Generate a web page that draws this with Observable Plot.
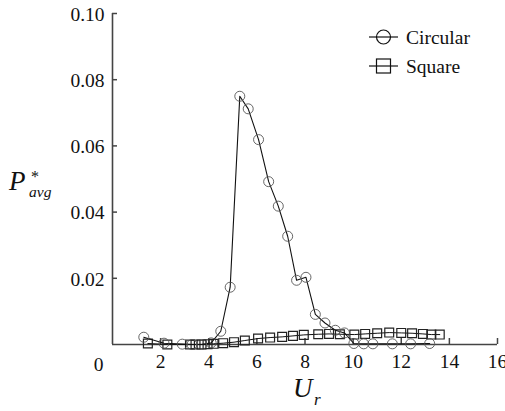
<!DOCTYPE html>
<html>
<head>
<meta charset="utf-8">
<script src="https://cdn.jsdelivr.net/npm/d3@7"></script>
<script src="https://cdn.jsdelivr.net/npm/@observablehq/plot@0.6"></script>
<style>
  html, body { margin: 0; padding: 0; background: #fff; font-family: "Liberation Serif", serif; }
  #chart { width: 505px; height: 411px; }
</style>
</head>
<body>
<div id="chart"></div>
<script>
// ---- data ----
const circularU = [1.30, 2.14, 2.90, 3.30, 3.70, 4.10, 4.50, 4.89, 5.29, 5.64, 6.07, 6.49, 6.89, 7.28, 7.65, 8.04, 8.43, 8.83, 9.26, 9.64, 10.03, 10.44, 10.82, 11.63, 12.39, 13.18];
const circularP = [0.0022, 0.0004, 0.0001, 0.0000, 0.0000, 0.0005, 0.0040, 0.0173, 0.0750, 0.0712, 0.0619, 0.0492, 0.0418, 0.0327, 0.0194, 0.0203, 0.0091, 0.0065, 0.0043, 0.0035, 0.0003, 0.0002, 0.0002, 0.0002, 0.0002, 0.0003];

const squareU = [1.47, 2.28, 3.22, 3.45, 3.70, 3.95, 4.20, 4.60, 5.05, 5.50, 6.05, 6.55, 7.05, 7.50, 7.95, 8.55, 9.00, 9.45, 10.05, 10.50, 11.00, 11.50, 12.00, 12.45, 12.90, 13.25, 13.60];
const squareP = [0.0003, 0.0000, 0.0000, 0.0000, 0.0000, 0.0001, 0.0002, 0.0004, 0.0007, 0.0012, 0.0018, 0.0021, 0.0023, 0.0026, 0.0029, 0.0031, 0.0032, 0.0031, 0.0030, 0.0032, 0.0034, 0.0036, 0.0035, 0.0034, 0.0032, 0.0030, 0.0030];

const xTicks = [2, 4, 6, 8, 10, 12, 14, 16];
const yTicks = [0.02, 0.04, 0.06, 0.08, 0.10];
const originLabel = ["0"];
const seriesNames = ["Circular", "Square"];

const circular = circularU.map((u, i) => ({u, p: circularP[i]}));
const square = squareU.map((u, i) => ({u, p: squareP[i]}));

const FONT = "Liberation Serif, DejaVu Serif, serif";
const AXIS = "#444";
const FS = 19.5;

const plot = Plot.plot({
  width: 505,
  height: 411,
  marginLeft: 112,
  marginRight: 8,
  marginTop: 13,
  marginBottom: 67,
  x: {domain: [0, 16]},
  y: {domain: [0, 0.1]},
  style: {fontFamily: FONT, fontSize: FS + "px", color: "#111", background: "#fff", overflow: "visible"},
  marks: [
    // axis lines
    Plot.ruleY([0], {stroke: AXIS, strokeWidth: 1.6}),
    Plot.ruleX([0], {stroke: AXIS, strokeWidth: 1.6}),
    // inward ticks
    Plot.axisX({ticks: xTicks, tickSize: 6, dy: -6, tickFormat: () => "", stroke: AXIS, strokeWidth: 1.5, label: null}),
    Plot.axisY({ticks: yTicks, tickSize: 5, dx: 5, tickFormat: () => "", stroke: AXIS, strokeWidth: 1.5, label: null}),
    // tick labels
    Plot.axisX({ticks: xTicks, tickSize: 0, tickPadding: 10, label: null, fontSize: FS}),
    Plot.axisY({ticks: yTicks, tickSize: 0, tickPadding: 8, tickFormat: d3.format(".2f"), label: null, fontSize: FS, dy: 1}),
    Plot.text(originLabel, {x: 0, y: 0, text: d => d, dx: -9, dy: 20, textAnchor: "end", fontSize: FS}),
    // series
    Plot.line(square, {x: "u", y: "p", stroke: "#111", strokeWidth: 1}),
    Plot.dot(square, {x: "u", y: "p", symbol: "square", r: 5, stroke: "#222", strokeWidth: 1.2, fill: "none"}),
    Plot.line(circular, {x: "u", y: "p", stroke: "#111", strokeWidth: 1.1}),
    Plot.dot(circular, {x: "u", y: "p", r: 5, stroke: "#555", strokeWidth: 0.9, fill: "none"})
  ]
});

document.getElementById("chart").appendChild(plot);

const svg = d3.select(plot);

// y-axis title  P*_avg
const yt = svg.append("g").attr("font-style", "italic").attr("fill", "#111").attr("text-anchor", "start");
yt.append("text").attr("x", 9).attr("y", 190).attr("font-size", 27).text("P");
yt.append("text").attr("x", 31).attr("y", 182).attr("font-size", 16).attr("font-style", "normal").text("*");
yt.append("text").attr("x", 29).attr("y", 197).attr("font-size", 15.5).text("avg");

// x-axis title  U_r
const xt = svg.append("g").attr("font-style", "italic").attr("fill", "#111").attr("text-anchor", "start");
xt.append("text").attr("x", 293).attr("y", 397).attr("font-size", 27).text("U");
xt.append("text").attr("x", 314).attr("y", 405).attr("font-size", 17).text("r");

// legend
const lg = svg.append("g").attr("font-size", FS).attr("fill", "#111").attr("text-anchor", "start");
const rows = [{name: seriesNames[0], y: 37, sym: "circle"}, {name: seriesNames[1], y: 66, sym: "square"}];
rows.forEach(r => {
  lg.append("line").attr("x1", 369).attr("x2", 398).attr("y1", r.y).attr("y2", r.y).attr("stroke", "#111").attr("stroke-width", 1.2);
  if (r.sym === "circle") {
    lg.append("circle").attr("cx", 383.5).attr("cy", r.y).attr("r", 7).attr("fill", "none").attr("stroke", "#111").attr("stroke-width", 1.2);
  } else {
    lg.append("rect").attr("x", 376.5).attr("y", r.y - 7).attr("width", 14).attr("height", 14).attr("fill", "none").attr("stroke", "#111").attr("stroke-width", 1.2);
  }
  lg.append("text").attr("x", 406).attr("y", r.y + 7).text(r.name);
});

// use the serif face wherever the renderer provides it
svg.selectAll("text").style("font-family", FONT);
</script>
</body>
</html>
